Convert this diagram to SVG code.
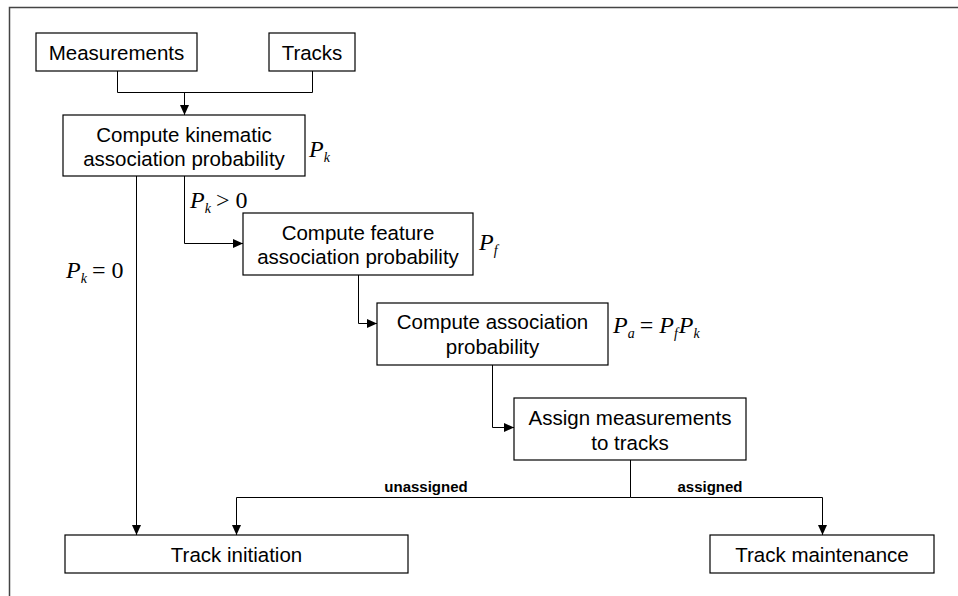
<svg xmlns="http://www.w3.org/2000/svg" width="958" height="596" viewBox="0 0 958 596">
<defs>
<marker id="arr" markerUnits="userSpaceOnUse" markerWidth="10" markerHeight="9" refX="10" refY="4.5" orient="auto">
<path d="M0,0 L10,4.5 L0,9 z" fill="#000"/>
</marker>
<style>
.box{fill:#fff;stroke:#000;stroke-width:1.2}
.t{font-family:"Liberation Sans",Arial,sans-serif;font-size:20.5px;fill:#000;text-anchor:middle}
.lb{font-family:"Liberation Sans",Arial,sans-serif;font-size:15px;font-weight:bold;fill:#000;text-anchor:middle}
.m{font-family:"Liberation Serif","Times New Roman",serif;font-size:24px;fill:#000}
.i{font-style:italic}
.s{font-size:14px}
.c{fill:none;stroke:#000;stroke-width:1}
.ca{fill:none;stroke:#000;stroke-width:1;marker-end:url(#arr)}
</style>
</defs>
<rect width="958" height="596" fill="#fff"/>
<path d="M9.5,596 V7.5 H958" fill="none" stroke="#444" stroke-width="1.5"/>

<g id="connectors">
<path class="c" d="M117.5,71 V92.5 H312.5 V71"/>
<path class="ca" d="M184.5,92.5 V115"/>
<path class="ca" d="M136.5,176 V535"/>
<path class="ca" d="M184.5,176 V243.5 H243"/>
<path class="ca" d="M358.5,275 V323.5 H377"/>
<path class="ca" d="M492.5,365 V427.5 H514"/>
<path class="c" d="M630.5,460 V497.5"/>
<path class="ca" d="M630.5,497.5 H236.5 V535"/>
<path class="ca" d="M630.5,497.5 H822.5 V535"/>
<text class="lb" x="426" y="492">unassigned</text>
<text class="lb" x="710" y="492">assigned</text>
<text class="m" x="190" y="208"><tspan class="i">P</tspan><tspan class="i s" dy="5">k</tspan><tspan dy="-5" dx="5">&gt; 0</tspan></text>
<text class="m" x="66" y="278"><tspan class="i">P</tspan><tspan class="i s" dy="5">k</tspan><tspan dy="-5" dx="5">= 0</tspan></text>
</g>

<g id="measurements">
<rect class="box" x="36" y="33" width="161" height="38"/>
<text class="t" x="116.5" y="59.5">Measurements</text>
</g>
<g id="tracks">
<rect class="box" x="269" y="33" width="86" height="38"/>
<text class="t" x="312" y="59.5">Tracks</text>
</g>
<g id="kinematic">
<rect class="box" x="63" y="115" width="242" height="61"/>
<text class="t" x="184" y="141.5">Compute kinematic</text>
<text class="t" x="184" y="166">association probability</text>
<text class="m" x="309" y="157"><tspan class="i">P</tspan><tspan class="i s" dy="5">k</tspan></text>
</g>
<g id="feature">
<rect class="box" x="243" y="213" width="230" height="62"/>
<text class="t" x="358" y="239.5">Compute feature</text>
<text class="t" x="358" y="264">association probability</text>
<text class="m" x="479" y="250"><tspan class="i">P</tspan><tspan class="i s" dy="5">f</tspan></text>
</g>
<g id="association">
<rect class="box" x="377" y="303" width="231" height="62"/>
<text class="t" x="492.5" y="329">Compute association</text>
<text class="t" x="492.5" y="353.5">probability</text>
<text class="m" x="613" y="333"><tspan class="i">P</tspan><tspan class="i s" dy="5">a</tspan><tspan dy="-5" dx="5">= </tspan><tspan class="i">P</tspan><tspan class="i s" dy="5">f</tspan><tspan class="i" dy="-5" dx="1">P</tspan><tspan class="i s" dy="5">k</tspan></text>
</g>
<g id="assign">
<rect class="box" x="514" y="398" width="232" height="62"/>
<text class="t" x="630" y="425">Assign measurements</text>
<text class="t" x="630" y="449.5">to tracks</text>
</g>
<g id="track-initiation">
<rect class="box" x="65" y="535" width="343" height="38"/>
<text class="t" x="236.5" y="561.5">Track initiation</text>
</g>
<g id="track-maintenance">
<rect class="box" x="710" y="535" width="224" height="38"/>
<text class="t" x="822" y="561.5">Track maintenance</text>
</g>
</svg>
